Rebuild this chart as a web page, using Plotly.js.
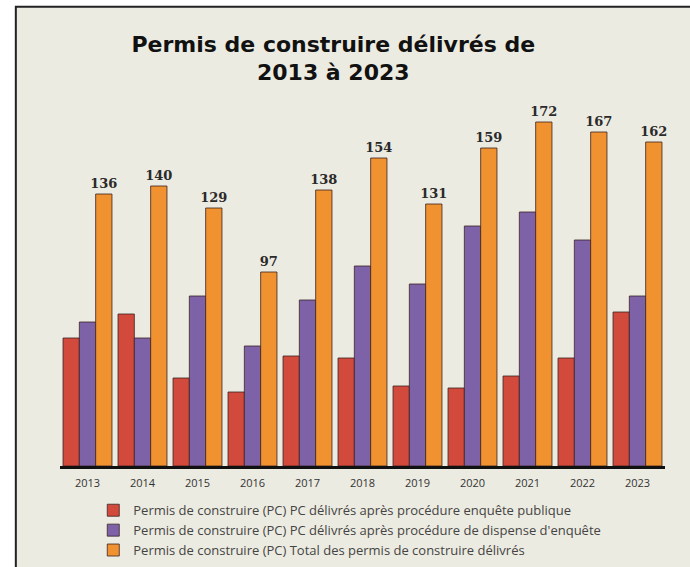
<!DOCTYPE html>
<html>
<head>
<meta charset="utf-8">
<script src="https://cdn.plot.ly/plotly-3.0.1.min.js"></script>
<style>html,body{margin:0;padding:0;background:#fff;}#chart{width:690px;height:567px;}</style>
</head>
<body>
<div id="chart"></div>
<script>
const years = ['2013','2014','2015','2016','2017','2018','2019','2020','2021','2022','2023'];
const enquetePublique = [64, 76, 44, 37, 55, 54, 40, 39, 45, 54, 77];
const dispenseEnquete = [72, 64, 85, 60, 83, 100, 91, 120, 127, 113, 85];
const totalPermis = [136, 140, 129, 97, 138, 154, 131, 159, 172, 167, 162];
const seriesNames = [
  'Permis de construire (PC) PC délivrés après procédure enquête publique',
  'Permis de construire (PC) PC délivrés après procédure de dispense d\'enquête',
  'Permis de construire (PC) Total des permis de construire délivrés'
];

const lineStyle = {color: '#3b2222', width: 0.8};
const traces = [
  {type: 'bar', x: years, y: enquetePublique, name: seriesNames[0],
   marker: {color: '#d24a3c', line: lineStyle}, hoverinfo: 'y'},
  {type: 'bar', x: years, y: dispenseEnquete, name: seriesNames[1],
   marker: {color: '#7d62a8', line: lineStyle}, hoverinfo: 'y'},
  {type: 'bar', x: years, y: totalPermis, name: seriesNames[2],
   marker: {color: '#f0922f', line: lineStyle},
   text: totalPermis.map(String), textposition: 'outside', cliponaxis: false,
   constraintext: 'none',
   textfont: {family: 'DejaVu Serif, Liberation Serif, serif', size: 13, color: '#2a2a2a', weight: 'bold'},
   hoverinfo: 'y'}
];

const layout = {
  width: 690, height: 567,
  margin: {l: 60, r: 25, t: 100, b: 101, autoexpand: false},
  paper_bgcolor: '#ffffff',
  plot_bgcolor: 'rgba(0,0,0,0)',
  barmode: 'group',
  bargap: 0.11,
  bargroupgap: 0,
  title: {
    text: '<b>Permis de construire délivrés de<br>2013 à 2023</b>',
    font: {family: 'DejaVu Sans, Liberation Sans, sans-serif', size: 22, color: '#111'},
    x: 0.483, xanchor: 'center', xref: 'container',
    y: 0.909, yanchor: 'top', yref: 'container'
  },
  xaxis: {
    type: 'category',
    showline: true, linecolor: '#111', linewidth: 2.5,
    showgrid: false, zeroline: false, ticks: '',
    ticklabelstandoff: 5,
    tickfont: {family: 'Open Sans, sans-serif', size: 11, color: '#333'}
  },
  yaxis: {
    range: [0, 183], visible: false, showgrid: false, zeroline: false
  },
  showlegend: true,
  legend: {
    orientation: 'v', x: 0.055, xanchor: 'left', y: -0.08, yanchor: 'top',
    font: {family: 'Open Sans, sans-serif', size: 13, color: '#444'},
    bgcolor: 'rgba(0,0,0,0)', itemwidth: 30, tracegroupgap: 0
  },
  shapes: [
    {type: 'rect', xref: 'paper', yref: 'paper', layer: 'below',
     x0: -0.073, x1: 1.06, y0: -0.3, y1: 1.255,
     fillcolor: '#ecebe1', line: {color: '#222', width: 2}}
  ]
};

Plotly.newPlot('chart', traces, layout, {displayModeBar: false, staticPlot: true});
</script>
</body>
</html>
